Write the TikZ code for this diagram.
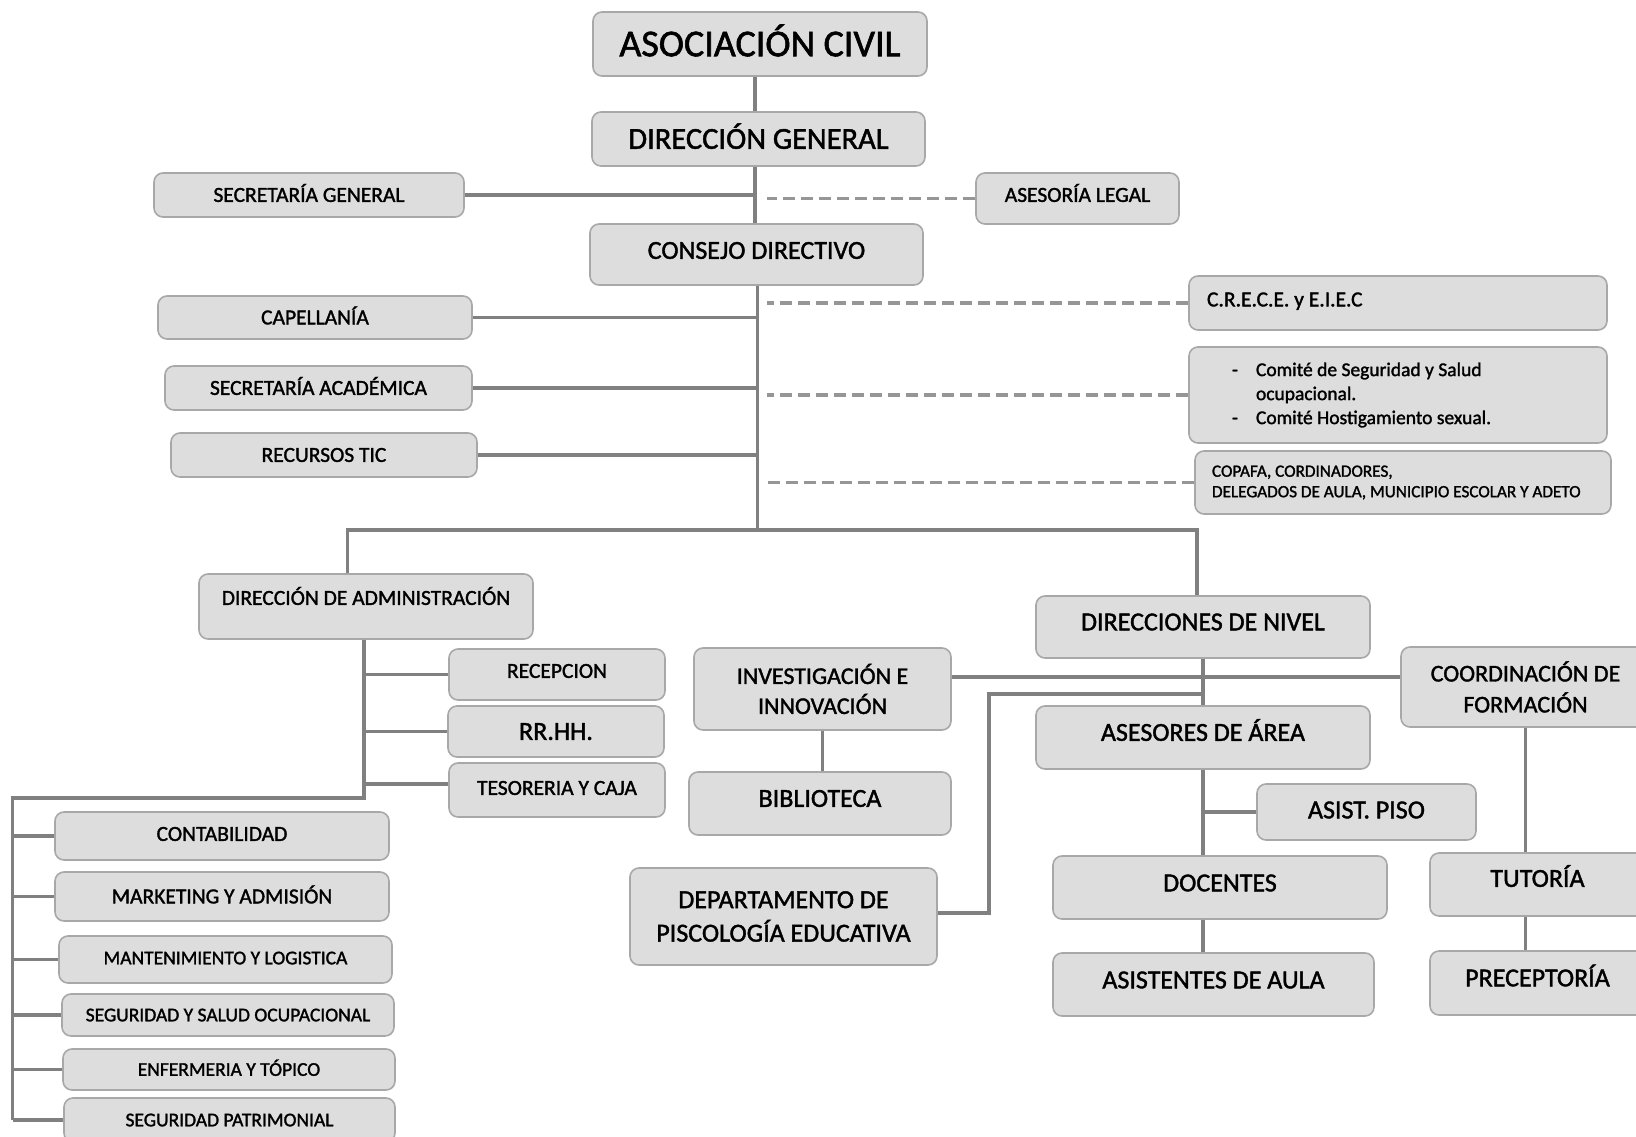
\documentclass[tikz,border=0pt]{standalone}
\usepackage{fontspec}
\setmainfont{Carlito}[RawFeature={embolden=1.5}]
\frenchspacing
\definecolor{boxfill}{RGB}{221,221,221}
\definecolor{boxline}{RGB}{168,168,168}
\definecolor{linegray}{RGB}{128,128,128}
\definecolor{dashgray}{RGB}{150,150,150}

\begin{document}
\begin{tikzpicture}[x=1pt, y=-1pt,
  box/.style={draw=boxline, fill=boxfill, rounded corners=9pt, line width=1.6pt, inner sep=0pt, align=center},
  t0/.style={font=\fontsize{19.5}{24}\selectfont, text height=12.6pt, text depth=#1}, t0/.default=0pt,
  t1/.style={font=\fontsize{21.5}{25}\selectfont, text height=13.8pt, text depth=#1}, t1/.default=0pt,
  t2/.style={font=\fontsize{26}{32}\selectfont, text height=16.7pt, text depth=#1}, t2/.default=0pt,
  link/.style={draw=linegray, line width=3.3pt},
  dlink/.style={draw=dashgray, line width=3.3pt, dash pattern=on 12pt off 6pt}]

\useasboundingbox (0,0) rectangle (1636,1137);

% top
\node[box, minimum width=334pt, minimum height=64pt, font=\fontsize{38}{44}\selectfont, text height=24.5pt, text depth=0pt] (ac) at (760,44) {ASOCIACIÓN CIVIL};
\node[box, minimum width=333pt, minimum height=54pt, font=\fontsize{30.5}{36}\selectfont, text height=19.6pt, text depth=0pt] (dg) at (758.5,139) {DIRECCIÓN GENERAL};
\node[box, t1, minimum width=310pt, minimum height=44pt] (sg) at (309,195) {SECRETARÍA GENERAL};
\node[box, t1=7pt, minimum width=203pt, minimum height=51pt] (al) at (1077.5,198.5) {ASESORÍA LEGAL};
\node[box, t2=8pt, minimum width=333pt, minimum height=61pt] (cd) at (756.5,254.5) {CONSEJO DIRECTIVO};

\node[box, t1, minimum width=314pt, minimum height=43pt] (cap) at (315,317.5) {CAPELLANÍA};
\node[box, t1, minimum width=307pt, minimum height=44pt] (sa) at (318.5,388) {SECRETARÍA ACADÉMICA};
\node[box, t1, minimum width=306pt, minimum height=44pt] (tic) at (324,455) {RECURSOS TIC};

\node[box, t1=7pt, align=flush left, inner xsep=18pt, text width=382pt, minimum height=54pt] (crece) at (1398,303) {C.R.E.C.E. y E.I.E.C};
\node[box, align=flush left, inner xsep=43pt, text width=332pt, minimum height=96pt, font=\fontsize{19.5}{24}\selectfont] (comite) at (1398,395)
  {\makebox[24pt][l]{-}Comité de Seguridad y Salud\\\hspace*{24pt}ocupacional.\\\makebox[24pt][l]{-}Comité Hostigamiento sexual.};
\node[box, align=flush left, inner xsep=17pt, text width=382pt, minimum height=63pt, font=\fontsize{17.2}{20.5}\selectfont] (copafa) at (1403,482.5)
  {COPAFA, CORDINADORES,\\DELEGADOS DE AULA, MUNICIPIO ESCOLAR Y ADETO};

% administracion
\node[box, t1=17pt, minimum width=334pt, minimum height=65pt] (da) at (366,606.5) {DIRECCIÓN DE ADMINISTRACIÓN};
\node[box, t1=7pt, minimum width=216pt, minimum height=51pt] (rec) at (557,674.5) {RECEPCION};
\node[box, t2, minimum width=216pt, minimum height=51pt] (rrhh) at (556,731.5) {RR.HH.};
\node[box, t1=4pt, minimum width=216pt, minimum height=54pt] (tes) at (557,790) {TESORERIA Y CAJA};
\node[box, t1=4pt, minimum width=334pt, minimum height=48pt] (cont) at (222,836) {CONTABILIDAD};
\node[box, t1, minimum width=334pt, minimum height=49pt] (mkt) at (222,896.5) {MARKETING Y ADMISIÓN};
\node[box, t0=3pt, minimum width=333pt, minimum height=47pt] (mant) at (225.5,959.5) {MANTENIMIENTO Y LOGISTICA};
\node[box, t0, minimum width=332pt, minimum height=42pt] (sso) at (228,1015) {SEGURIDAD Y SALUD OCUPACIONAL};
\node[box, t0, minimum width=332pt, minimum height=41pt] (enf) at (229,1069.5) {ENFERMERIA Y TÓPICO};
\node[box, t0, minimum width=331pt, minimum height=44pt] (spat) at (229.5,1120) {SEGURIDAD PATRIMONIAL};

% niveles
\node[box, t2=10pt, minimum width=334pt, minimum height=62pt] (dn) at (1203,627) {DIRECCIONES DE NIVEL};
\node[box, minimum width=257pt, minimum height=82pt, font=\fontsize{24}{30}\selectfont] (ii) at (822.5,689) {INVESTIGACIÓN E\\INNOVACIÓN};
\node[box, t2=10pt, minimum width=262pt, minimum height=63pt] (bib) at (820,803.5) {BIBLIOTECA};
\node[box, minimum width=249pt, minimum height=80pt, font=\fontsize{24}{31}\selectfont] (cf) at (1525.5,687) {COORDINACIÓN DE\\FORMACIÓN};
\node[box, minimum width=307pt, minimum height=97pt, font=\fontsize{26}{33.5}\selectfont] (dep) at (783.5,916.5) {DEPARTAMENTO DE\\PISCOLOGÍA EDUCATIVA};
\node[box, t2=10pt, minimum width=334pt, minimum height=63pt] (as) at (1203,737.5) {ASESORES DE ÁREA};
\node[box, t2=4pt, minimum width=219pt, minimum height=56pt] (ap) at (1366.5,812) {ASIST. PISO};
\node[box, t2=9pt, minimum width=334pt, minimum height=63pt] (doc) at (1220,887.5) {DOCENTES};
\node[box, t2=9pt, minimum width=321pt, minimum height=63pt] (asis) at (1213.5,984.5) {ASISTENTES DE AULA};
\node[box, t2=12pt, minimum width=215pt, minimum height=63pt] (tut) at (1537.5,884.5) {TUTORÍA};
\node[box, t2=10pt, minimum width=215pt, minimum height=64pt] (prec) at (1537.5,983) {PRECEPTORÍA};

% junctions
\coordinate (tsp) at (755,195);
\coordinate (j1) at (757.5,530);
\coordinate (bl) at (347.5,530);
\coordinate (br) at (1197,530);
\coordinate (ja) at (364,798);
\coordinate (jl) at (12.5,798);
\coordinate (hl) at (0,677);
\coordinate (pk) at (989,694);

% lines
\draw[link] (ac.south -| tsp) -- (dg.north -| tsp);
\draw[link] (dg.south -| tsp) -- (cd.north -| tsp);
\draw[link] (sg.east) -- (sg.east -| tsp);
\draw[dlink, shorten >=12pt] (al.west) -- (al.west -| tsp);

\draw[link] (cd.south -| j1) -- (j1);
\foreach \n in {cap,sa,tic}
  \draw[link] (\n.east) -- (\n.east -| j1);
\foreach \n in {crece,comite,copafa}
  \draw[dlink, shorten >=9pt] (\n.west) -- (\n.west -| j1);
\draw[link] (da.north -| bl) -- (bl) -- (br) -- (dn.north -| br);

\draw[link] (da.south -| ja) -- (ja) -- (jl) -- (spat.west -| jl);
\foreach \n in {rec,rrhh}
  \draw[link] (\n.west) -- (\n.west -| ja);
\draw[link] ([yshift=6pt]tes.west) -- ([yshift=6pt]tes.west -| ja);
\foreach \n in {cont,mkt,mant,sso,enf,spat}
  \draw[link] (\n.west) -- (\n.west -| jl);

\draw[link] (dn.south) -- (as.north);
\draw[link] (ii.east |- hl) -- (cf.west |- hl);
\draw[link] (dep.east |- 0,913) -| (pk) -- (pk -| dn.south);
\draw[link] (ii.south) -- (ii.south |- bib.north);
\draw[link] (as.south) -- (as.south |- doc.north);
\draw[link] (ap.west) -- (ap.west -| as.south);
\draw[link] (doc.south -| as.south) -- (asis.north -| as.south);
\draw[link] (cf.south) -- (tut.north -| cf.south);
\draw[link] (tut.south -| cf.south) -- (prec.north -| cf.south);
\end{tikzpicture}
\end{document}
